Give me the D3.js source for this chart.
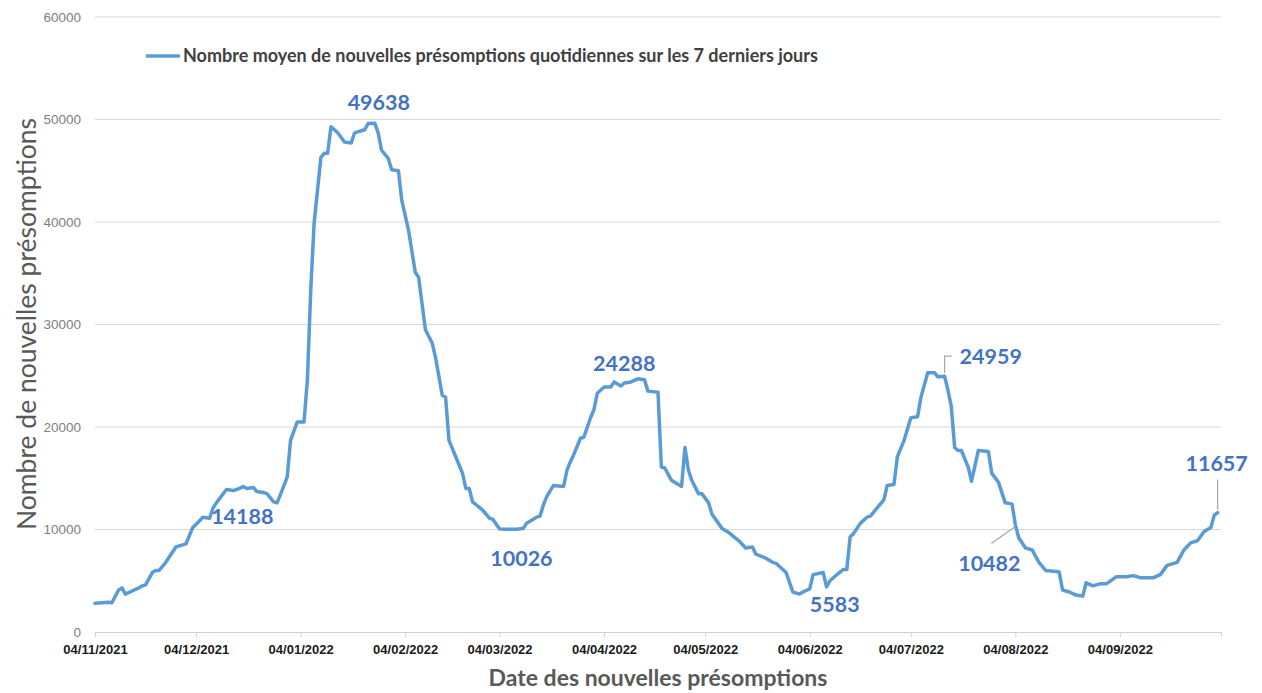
<!DOCTYPE html>
<html>
<head>
<meta charset="utf-8">
<script src="https://cdn.jsdelivr.net/npm/d3@7"></script>
<style>
  body { margin: 0; background: #fff; }
  svg { font-family: Lato, "Open Sans", sans-serif; }
</style>
</head>
<body>
<div id="chart"></div>
<script>
const dates = [
  "2021-11-04","2021-11-08","2021-11-09","2021-11-11","2021-11-12","2021-11-13","2021-11-15","2021-11-17",
  "2021-11-18","2021-11-19","2021-11-21","2021-11-22","2021-11-23","2021-11-25","2021-11-28","2021-12-01",
  "2021-12-03","2021-12-04","2021-12-06","2021-12-08","2021-12-09","2021-12-10","2021-12-13","2021-12-15",
  "2021-12-16","2021-12-18","2021-12-19","2021-12-21","2021-12-22","2021-12-24","2021-12-25","2021-12-27",
  "2021-12-28","2021-12-29","2021-12-31","2022-01-01","2022-01-03","2022-01-05","2022-01-06","2022-01-07",
  "2022-01-08","2022-01-10","2022-01-11","2022-01-12","2022-01-13","2022-01-15","2022-01-17","2022-01-19",
  "2022-01-20","2022-01-22","2022-01-23","2022-01-24","2022-01-26","2022-01-27","2022-01-28","2022-01-30",
  "2022-01-31","2022-02-02","2022-02-03","2022-02-05","2022-02-07","2022-02-08","2022-02-10","2022-02-12",
  "2022-02-13","2022-02-15","2022-02-16","2022-02-17","2022-02-19","2022-02-21","2022-02-22","2022-02-23",
  "2022-02-24","2022-02-27","2022-03-01","2022-03-02","2022-03-04","2022-03-06","2022-03-09","2022-03-11",
  "2022-03-12","2022-03-15","2022-03-16","2022-03-17","2022-03-18","2022-03-20","2022-03-23","2022-03-24",
  "2022-03-25","2022-03-26","2022-03-28","2022-03-29","2022-03-31","2022-04-01","2022-04-02","2022-04-04",
  "2022-04-06","2022-04-07","2022-04-09","2022-04-10","2022-04-12","2022-04-14","2022-04-16","2022-04-17",
  "2022-04-20","2022-04-21","2022-04-22","2022-04-24","2022-04-27","2022-04-28","2022-04-29","2022-04-30",
  "2022-05-02","2022-05-03","2022-05-05","2022-05-06","2022-05-09","2022-05-11","2022-05-14","2022-05-16",
  "2022-05-18","2022-05-19","2022-05-22","2022-05-24","2022-05-25","2022-05-28","2022-05-30","2022-06-01",
  "2022-06-02","2022-06-04","2022-06-05","2022-06-08","2022-06-09","2022-06-10","2022-06-12","2022-06-14",
  "2022-06-15","2022-06-16","2022-06-17","2022-06-19","2022-06-21","2022-06-22","2022-06-24","2022-06-26",
  "2022-06-27","2022-06-29","2022-06-30","2022-07-02","2022-07-04","2022-07-06","2022-07-07","2022-07-09",
  "2022-07-11","2022-07-12","2022-07-14","2022-07-15","2022-07-16","2022-07-17","2022-07-18","2022-07-19",
  "2022-07-21","2022-07-22","2022-07-24","2022-07-27","2022-07-28","2022-07-30","2022-08-01","2022-08-03",
  "2022-08-04","2022-08-05","2022-08-07","2022-08-09","2022-08-11","2022-08-13","2022-08-16","2022-08-17",
  "2022-08-18","2022-08-20","2022-08-22","2022-08-24","2022-08-25","2022-08-27","2022-08-29","2022-08-31",
  "2022-09-03","2022-09-06","2022-09-08","2022-09-10","2022-09-14","2022-09-16","2022-09-18","2022-09-20",
  "2022-09-21","2022-09-23","2022-09-25","2022-09-27","2022-09-29","2022-10-01","2022-10-02","2022-10-03"
];
const values = [
  2800,2900,2850,4100,4300,3700,4000,4300,
  4500,4600,5800,6000,6000,6800,8300,8600,
  10200,10500,11200,11100,12100,12600,13900,13800,
  13900,14188,14000,14100,13700,13600,13500,12700,
  12600,13400,15100,18700,20500,20500,24600,33400,
  39900,46300,46700,46700,49300,48700,47800,47700,
  48700,48900,49000,49600,49638,48700,47000,46200,
  45100,45000,42100,39200,35100,34600,29500,28200,
  26800,23100,22900,18700,17100,15500,14000,14000,
  12700,11900,11100,11000,10050,10030,10026,10100,
  10600,11200,11300,12400,13200,14300,14200,15800,
  16600,17300,18900,19000,20900,21700,23300,23900,
  23900,24400,24000,24288,24400,24700,24600,23500,
  23400,16100,16000,14800,14200,18000,15800,14800,
  13500,13500,12600,11500,10100,9700,8900,8200,
  8300,7600,7200,6800,6700,5800,3900,3700,
  3900,4200,5600,5800,4400,5000,5583,6100,
  6100,9300,9600,10600,11200,11300,12100,12900,
  14300,14400,17100,18700,20900,21000,22900,25300,
  25300,24900,24959,23600,22000,18000,17700,17700,
  16100,14700,17700,17600,15500,14600,12600,12500,
  10482,9200,8200,8000,6800,6000,5900,5850,
  4100,3900,3600,3500,4800,4500,4700,4700,
  5400,5400,5500,5300,5300,5600,6500,6700,
  6800,8000,8700,8900,9800,10200,11400,11657
];
const tick_dates = ["2021-11-04","2021-12-04","2022-01-04","2022-02-04","2022-03-04","2022-04-04",
  "2022-05-04","2022-06-04","2022-07-04","2022-08-04","2022-09-04","2022-10-04"];
const y_ticks = [0, 10000, 20000, 30000, 40000, 50000, 60000];
const label_dates = ["2021-12-18","2022-01-26","2022-03-09","2022-04-10","2022-06-12","2022-07-14","2022-08-04","2022-10-03"];

const series_name = "Nombre moyen de nouvelles présomptions quotidiennes sur les 7 derniers jours";

const parse = d3.timeParse("%Y-%m-%d");
const fmt = d3.timeFormat("%d/%m/%Y");
const data = dates.map((d, i) => ({ date: parse(d), value: values[i] }));

const W = 1262, H = 693;
const margins = { top: 17, right: 41, bottom: 61, left: 95 };

const x_scale = d3.scaleTime()
  .domain([parse(tick_dates[0]), parse(tick_dates[tick_dates.length - 1])])
  .range([margins.left, W - margins.right]);
const y_scale = d3.scaleLinear().domain([0, 60000]).range([H - margins.bottom, margins.top]);

const svg = d3.select("#chart").append("svg")
  .attr("width", W)
  .attr("height", H);

// gridlines
svg.append("g")
  .selectAll("line")
  .data(y_ticks.filter(v => v > 0))
  .join("line")
  .attr("x1", margins.left).attr("x2", W - margins.right)
  .attr("y1", d => y_scale(d)).attr("y2", d => y_scale(d))
  .attr("stroke", "#d9d9d9").attr("stroke-width", 1);

// y axis
const y_axis = d3.axisLeft(y_scale).tickValues(y_ticks).tickFormat(d3.format("d")).tickSize(0).tickPadding(14);
svg.append("g")
  .attr("class", "y axis")
  .attr("transform", "translate(" + margins.left + ",0)")
  .call(y_axis)
  .call(g => g.select(".domain").remove())
  .call(g => g.selectAll("text").attr("fill", "#808080").style("font-size", "13.5px"));

// x axis
const x_axis = d3.axisBottom(x_scale)
  .tickValues(tick_dates.map(parse))
  .tickFormat((d, i) => i < tick_dates.length - 1 ? fmt(d) : "")
  .tickSizeInner(5).tickSizeOuter(0).tickPadding(8);
svg.append("g")
  .attr("class", "x axis")
  .attr("transform", "translate(0," + (H - margins.bottom) + ")")
  .call(x_axis)
  .call(g => g.select(".domain").attr("stroke", "#d0d0d0"))
  .call(g => g.selectAll(".tick line").attr("stroke", "#d0d0d0"))
  .call(g => g.selectAll("text").attr("fill", "#1a1a1a").style("font-size", "13px").style("font-weight", "bold"));

// line
const line = d3.line()
  .x(d => x_scale(d.date))
  .y(d => y_scale(d.value));

svg.append("path")
  .datum(data)
  .attr("fill", "none")
  .attr("stroke", "#5b9bd5")
  .attr("stroke-width", 3.5)
  .attr("stroke-linejoin", "round")
  .attr("stroke-linecap", "round")
  .attr("d", line);

// legend
svg.append("line")
  .attr("x1", 146).attr("x2", 180).attr("y1", 56).attr("y2", 56)
  .attr("stroke", "#5b9bd5").attr("stroke-width", 3.5);
svg.append("text")
  .attr("x", 183).attr("y", 62)
  .attr("fill", "#404040")
  .style("font-size", "18px").style("font-weight", "bold")
  .text(series_name);

// data labels, offsets relative to the point
const label_style = [
  { dx: -1, dy: 37 },
  { dx: 4, dy: -13 },
  { dx: 5, dy: 37 },
  { dx: 0, dy: -12 },
  { dx: -2, dy: 37 },
  { dx: 15, dy: -12, anchor: "start", leader: [[0, -3], [0, -20], [7, -20]] },
  { dx: -26, dy: 46, leader: [[0, 2], [-24, 19]] },
  { dx: -1, dy: -42, leader: [[0, -3], [0, -33]] }
];

const labels = label_dates.map((d, i) => {
  const idx = dates.indexOf(d);
  return { date: parse(d), value: values[idx], ...label_style[i] };
});

const lab = svg.append("g");
labels.forEach(l => {
  const px = x_scale(l.date), py = y_scale(l.value);
  if (l.leader) {
    lab.append("path")
      .attr("d", d3.line()(l.leader.map(p => [px + p[0], py + p[1]])))
      .attr("fill", "none")
      .attr("stroke", "#a6a6a6")
      .attr("stroke-width", 1.2);
  }
  lab.append("text")
    .attr("x", px + l.dx)
    .attr("y", py + l.dy)
    .attr("text-anchor", l.anchor || "middle")
    .attr("fill", "#4472c4")
    .style("font-size", "21.5px")
    .style("font-weight", "bold")
    .text(l.value);
});

// axis titles
svg.append("text")
  .attr("x", 658).attr("y", 686)
  .attr("text-anchor", "middle")
  .attr("fill", "#595959")
  .style("font-size", "23px").style("font-weight", "bold")
  .text("Date des nouvelles présomptions");

svg.append("text")
  .attr("transform", "translate(36,324) rotate(-90)")
  .attr("text-anchor", "middle")
  .attr("fill", "#595959")
  .style("font-size", "26.5px")
  .text("Nombre de nouvelles présomptions");
</script>
</body>
</html>
